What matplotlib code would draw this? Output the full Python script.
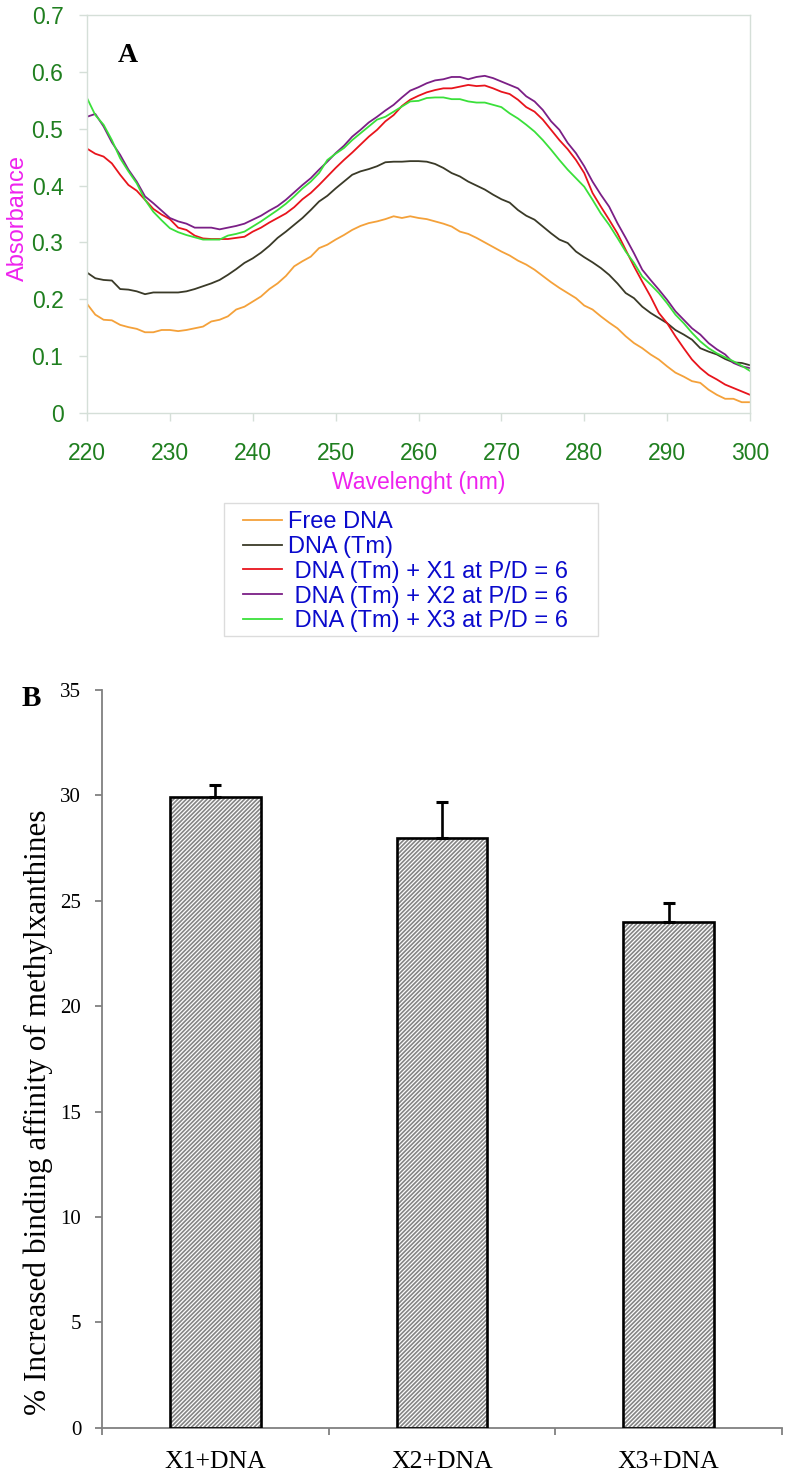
import numpy as np
import matplotlib
matplotlib.use('Agg')
import matplotlib.pyplot as plt
from matplotlib.patches import Rectangle

# ---- panel A: UV spectra ----
wavelength = np.arange(220, 301)

free_dna = [0.192, 0.173, 0.164, 0.163, 0.155, 0.151, 0.148, 0.142, 0.142, 0.146,
            0.146, 0.144, 0.146, 0.149, 0.152, 0.161, 0.164, 0.170, 0.182, 0.187,
            0.196, 0.205, 0.218, 0.228, 0.241, 0.258, 0.267, 0.275, 0.290, 0.296,
            0.305, 0.313, 0.322, 0.329, 0.334, 0.337, 0.341, 0.346, 0.343, 0.346,
            0.343, 0.341, 0.337, 0.333, 0.328, 0.319, 0.315, 0.308, 0.300, 0.292,
            0.284, 0.277, 0.268, 0.261, 0.252, 0.241, 0.230, 0.220, 0.211, 0.202,
            0.189, 0.182, 0.170, 0.159, 0.149, 0.135, 0.123, 0.114, 0.103, 0.094,
            0.082, 0.071, 0.064, 0.056, 0.053, 0.041, 0.032, 0.025, 0.025, 0.019,
            0.019]

dna_tm = [0.247, 0.237, 0.234, 0.233, 0.218, 0.217, 0.214, 0.209, 0.212, 0.212,
          0.212, 0.212, 0.214, 0.218, 0.223, 0.228, 0.234, 0.243, 0.253, 0.264,
          0.272, 0.282, 0.294, 0.308, 0.319, 0.331, 0.343, 0.357, 0.372, 0.382,
          0.395, 0.407, 0.419, 0.425, 0.429, 0.434, 0.441, 0.442, 0.442, 0.443,
          0.443, 0.442, 0.438, 0.431, 0.422, 0.416, 0.407, 0.400, 0.393, 0.384,
          0.376, 0.370, 0.357, 0.347, 0.340, 0.328, 0.316, 0.305, 0.299, 0.284,
          0.274, 0.265, 0.255, 0.243, 0.228, 0.211, 0.202, 0.187, 0.176, 0.167,
          0.158, 0.146, 0.138, 0.129, 0.114, 0.108, 0.103, 0.095, 0.089, 0.088,
          0.084]

dna_x1 = [0.465, 0.456, 0.451, 0.439, 0.419, 0.401, 0.391, 0.375, 0.359, 0.349,
          0.341, 0.326, 0.322, 0.312, 0.307, 0.306, 0.306, 0.306, 0.308, 0.310,
          0.319, 0.326, 0.335, 0.343, 0.351, 0.362, 0.376, 0.387, 0.401, 0.416,
          0.431, 0.445, 0.458, 0.472, 0.486, 0.498, 0.513, 0.524, 0.540, 0.551,
          0.558, 0.564, 0.568, 0.571, 0.571, 0.574, 0.577, 0.575, 0.576, 0.571,
          0.565, 0.561, 0.551, 0.538, 0.530, 0.516, 0.498, 0.480, 0.464, 0.445,
          0.422, 0.387, 0.363, 0.340, 0.316, 0.287, 0.258, 0.231, 0.205, 0.176,
          0.158, 0.135, 0.114, 0.094, 0.079, 0.067, 0.059, 0.050, 0.044, 0.038,
          0.032]

dna_x2 = [0.521, 0.526, 0.504, 0.476, 0.454, 0.428, 0.407, 0.381, 0.369, 0.356,
          0.343, 0.337, 0.333, 0.326, 0.326, 0.326, 0.323, 0.326, 0.329, 0.333,
          0.340, 0.347, 0.356, 0.364, 0.375, 0.388, 0.401, 0.413, 0.428, 0.442,
          0.457, 0.470, 0.486, 0.498, 0.511, 0.521, 0.532, 0.542, 0.555, 0.567,
          0.573, 0.580, 0.585, 0.587, 0.591, 0.591, 0.587, 0.591, 0.593, 0.589,
          0.583, 0.577, 0.571, 0.557, 0.548, 0.533, 0.513, 0.498, 0.475, 0.457,
          0.434, 0.407, 0.384, 0.363, 0.334, 0.308, 0.281, 0.252, 0.234, 0.217,
          0.199, 0.179, 0.164, 0.149, 0.138, 0.123, 0.112, 0.103, 0.088, 0.082,
          0.079]

dna_x3 = [0.554, 0.524, 0.507, 0.480, 0.448, 0.425, 0.404, 0.375, 0.354, 0.339,
          0.325, 0.318, 0.313, 0.309, 0.305, 0.305, 0.305, 0.312, 0.315, 0.319,
          0.328, 0.337, 0.347, 0.357, 0.368, 0.381, 0.395, 0.407, 0.422, 0.445,
          0.456, 0.466, 0.480, 0.492, 0.504, 0.516, 0.521, 0.530, 0.539, 0.548,
          0.549, 0.554, 0.555, 0.555, 0.552, 0.552, 0.548, 0.546, 0.546, 0.542,
          0.538, 0.527, 0.518, 0.507, 0.495, 0.480, 0.463, 0.445, 0.428, 0.413,
          0.398, 0.375, 0.351, 0.331, 0.308, 0.284, 0.264, 0.240, 0.226, 0.211,
          0.193, 0.173, 0.158, 0.141, 0.126, 0.114, 0.105, 0.098, 0.091, 0.083,
          0.074]

series_labels = ['Free DNA', 'DNA (Tm)', ' DNA (Tm) + X1 at P/D = 6',
                 ' DNA (Tm) + X2 at P/D = 6', ' DNA (Tm) + X3 at P/D = 6']
series_colors = ['#f4a13a', '#3a3a28', '#e8141c', '#7b1f86', '#3ae03a']

# ---- panel B: binding affinity ----
categories = ['X1+DNA', 'X2+DNA', 'X3+DNA']
affinity = [29.9, 28.0, 24.0]
affinity_err = [0.6, 1.7, 0.9]

W, H = 793, 1475
fig = plt.figure(figsize=(W / 100, H / 100), dpi=100)

green = '#1f7f1f'
magenta = '#ee22ee'
light = '#d5dfd8'

ax1 = fig.add_axes([87 / W, 1 - 413 / H, (750 - 87) / W, (413 - 15) / H])
for y, lab, col in zip([free_dna, dna_tm, dna_x1, dna_x2, dna_x3], series_labels, series_colors):
    ax1.plot(wavelength, y, color=col, lw=1.3, label=lab)
ax1.set_xlim(220, 300)
ax1.set_ylim(0, 0.7)
ax1.set_xticks(np.arange(220, 301, 10))
ax1.set_yticks(np.arange(0, 0.71, 0.1))
ax1.set_yticklabels(['0', '0.1', '0.2', '0.3', '0.4', '0.5', '0.6', '0.7'])
for s in ax1.spines.values():
    s.set_color(light)
    s.set_linewidth(1.0)
ax1.tick_params(axis='x', colors=light, labelcolor=green, length=6, width=1, pad=15, labelsize=16.5)
ax1.tick_params(axis='y', colors=light, labelcolor=green, length=6, width=1, pad=11, labelsize=16.5)
for t in ax1.get_xticklabels() + ax1.get_yticklabels():
    t.set_fontfamily('Liberation Sans')
ax1.set_xlabel('Wavelenght (nm)', color=magenta, fontsize=16.5, family='Liberation Sans', labelpad=4)
ax1.set_ylabel('Absorbance', color=magenta, fontsize=17, family='Liberation Sans')
ax1.yaxis.set_label_coords(-0.088, 0.49)
fig.text(128 / W, 1 - 56 / H, 'A', fontsize=20, fontweight='bold', family='Liberation Serif',
         ha='center', va='center')

# legend box drawn separately so its padding matches
fig.patches.append(Rectangle((224 / W, 1 - 636 / H), (598 - 224) / W, (636 - 503) / H,
                             transform=fig.transFigure, facecolor='white', edgecolor='#dcdcdc',
                             lw=1.0, zorder=0))
h, l = ax1.get_legend_handles_labels()
leg = fig.legend(h, l, loc='upper left', bbox_to_anchor=(243 / W, 1 - 511 / H), frameon=False,
                 borderpad=0, borderaxespad=0, handlelength=1.65, handletextpad=0.25,
                 labelspacing=0.12, prop={'family': 'Liberation Sans', 'size': 17})
for t in leg.get_texts():
    t.set_color('#0a0acc')

# ---- panel B ----
ax2 = fig.add_axes([102 / W, 1 - 1427.7 / H, (782 - 102) / W, (1427.7 - 690) / H])
xpos = np.arange(len(categories))
plt.rcParams['hatch.linewidth'] = 0.9
ax2.bar(xpos, affinity, width=0.4, color='#858585', edgecolor='white', hatch='////////', lw=0, zorder=2)
ax2.bar(xpos, affinity, width=0.4, fill=False, edgecolor='black', lw=1.9, zorder=3)
ax2.errorbar(xpos, affinity, yerr=[np.zeros(3), affinity_err], fmt='none', ecolor='black',
             elinewidth=1.9, capsize=4, capthick=2.2, zorder=4)
ax2.set_xlim(-0.5, 2.5)
ax2.set_ylim(0, 35)
ax2.set_yticks(np.arange(0, 36, 5))
ax2.set_xticks(xpos)
ax2.set_xticklabels(categories)
ax2.set_xticks([-0.5, 0.5, 1.5, 2.5], minor=True)
for side in ['top', 'right']:
    ax2.spines[side].set_visible(False)
for side in ['left', 'bottom']:
    ax2.spines[side].set_color('#808080')
    ax2.spines[side].set_linewidth(1.3)
ax2.tick_params(axis='x', which='major', length=0, pad=17, labelsize=18.5)
ax2.tick_params(axis='x', which='minor', length=5, width=1.3, color='#808080')
ax2.tick_params(axis='y', length=5, width=1.3, color='#808080', pad=10, labelsize=15)
for t in ax2.get_xticklabels() + ax2.get_yticklabels():
    t.set_fontfamily('Liberation Serif')
ax2.set_ylabel('% Increased binding affinity of methylxanthines', fontsize=22.5, family='Liberation Serif')
ax2.yaxis.set_label_coords(-0.072, 0.427)
fig.text(31 / W, 1 - 698 / H, 'B', fontsize=21, fontweight='bold', family='Liberation Serif',
         ha='center', va='center')

fig.savefig('out.png', dpi=100)
